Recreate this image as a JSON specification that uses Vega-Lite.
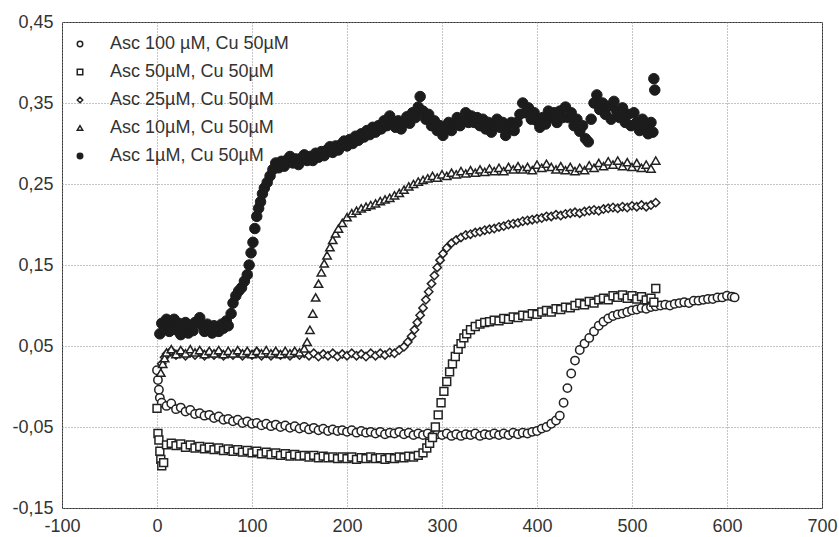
{
"$schema": "https://vega.github.io/schema/vega-lite/v6.json",
"width": 760,
"height": 486,
"autosize": {"type": "none"},
"padding": {"left": 62, "top": 22, "right": 17, "bottom": 29},
"background": "white",
"config": {
  "view": {"stroke": "#333", "strokeWidth": 1},
  "font": "Liberation Sans",
  "axis": {"labelFont": "Liberation Sans", "labelFontSize": 18, "labelColor": "#333", "ticks": false, "domain": false, "gridColor": "#8a8a8a", "gridDash": [1, 2], "gridWidth": 1, "labelPadding": 9, "labelFlush": false, "labelOverlap": false}
},
"datasets": {"kin": [
{"s":"a","t":0,"y":0.02},{"s":"a","t":1,"y":0.008},{"s":"a","t":2,"y":-0.004},{"s":"a","t":3,"y":-0.014},{"s":"a","t":5,"y":-0.02},{"s":"a","t":10,"y":-0.024},{"s":"a","t":15,"y":-0.021},{"s":"a","t":20,"y":-0.028},{"s":"a","t":25,"y":-0.026},{"s":"a","t":30,"y":-0.031},{"s":"a","t":35,"y":-0.029},{"s":"a","t":40,"y":-0.034},{"s":"a","t":45,"y":-0.033},{"s":"a","t":50,"y":-0.036},{"s":"a","t":55,"y":-0.035},{"s":"a","t":60,"y":-0.039},{"s":"a","t":65,"y":-0.037},{"s":"a","t":70,"y":-0.041},{"s":"a","t":75,"y":-0.04},{"s":"a","t":80,"y":-0.043},{"s":"a","t":85,"y":-0.041},{"s":"a","t":90,"y":-0.045},{"s":"a","t":95,"y":-0.043},{"s":"a","t":100,"y":-0.046},{"s":"a","t":105,"y":-0.045},{"s":"a","t":110,"y":-0.048},{"s":"a","t":115,"y":-0.046},{"s":"a","t":120,"y":-0.049},{"s":"a","t":125,"y":-0.047},{"s":"a","t":130,"y":-0.05},{"s":"a","t":135,"y":-0.048},{"s":"a","t":140,"y":-0.051},{"s":"a","t":145,"y":-0.049},{"s":"a","t":150,"y":-0.052},{"s":"a","t":155,"y":-0.05},{"s":"a","t":160,"y":-0.053},{"s":"a","t":165,"y":-0.051},{"s":"a","t":170,"y":-0.054},{"s":"a","t":175,"y":-0.052},{"s":"a","t":180,"y":-0.055},{"s":"a","t":185,"y":-0.053},{"s":"a","t":190,"y":-0.055},{"s":"a","t":195,"y":-0.054},{"s":"a","t":200,"y":-0.056},{"s":"a","t":205,"y":-0.054},{"s":"a","t":210,"y":-0.057},{"s":"a","t":215,"y":-0.055},{"s":"a","t":220,"y":-0.057},{"s":"a","t":225,"y":-0.056},{"s":"a","t":230,"y":-0.058},{"s":"a","t":235,"y":-0.056},{"s":"a","t":240,"y":-0.059},{"s":"a","t":245,"y":-0.057},{"s":"a","t":250,"y":-0.058},{"s":"a","t":255,"y":-0.056},{"s":"a","t":260,"y":-0.059},{"s":"a","t":265,"y":-0.057},{"s":"a","t":270,"y":-0.06},{"s":"a","t":275,"y":-0.058},{"s":"a","t":280,"y":-0.06},{"s":"a","t":285,"y":-0.058},{"s":"a","t":290,"y":-0.061},{"s":"a","t":295,"y":-0.059},{"s":"a","t":300,"y":-0.06},{"s":"a","t":305,"y":-0.058},{"s":"a","t":310,"y":-0.061},{"s":"a","t":315,"y":-0.059},{"s":"a","t":320,"y":-0.061},{"s":"a","t":325,"y":-0.059},{"s":"a","t":330,"y":-0.06},{"s":"a","t":335,"y":-0.058},{"s":"a","t":340,"y":-0.061},{"s":"a","t":345,"y":-0.059},{"s":"a","t":350,"y":-0.06},{"s":"a","t":355,"y":-0.058},{"s":"a","t":360,"y":-0.06},{"s":"a","t":365,"y":-0.058},{"s":"a","t":370,"y":-0.06},{"s":"a","t":375,"y":-0.057},{"s":"a","t":380,"y":-0.059},{"s":"a","t":385,"y":-0.057},{"s":"a","t":390,"y":-0.058},{"s":"a","t":395,"y":-0.056},{"s":"a","t":400,"y":-0.055},{"s":"a","t":405,"y":-0.052},{"s":"a","t":410,"y":-0.05},{"s":"a","t":415,"y":-0.046},{"s":"a","t":420,"y":-0.042},{"s":"a","t":424,"y":-0.036},{"s":"a","t":428,"y":-0.02},{"s":"a","t":432,"y":-0.002},{"s":"a","t":436,"y":0.016},{"s":"a","t":440,"y":0.032},{"s":"a","t":445,"y":0.045},{"s":"a","t":450,"y":0.053},{"s":"a","t":455,"y":0.06},{"s":"a","t":460,"y":0.068},{"s":"a","t":465,"y":0.075},{"s":"a","t":470,"y":0.08},{"s":"a","t":475,"y":0.084},{"s":"a","t":480,"y":0.087},{"s":"a","t":485,"y":0.089},{"s":"a","t":490,"y":0.09},{"s":"a","t":495,"y":0.092},{"s":"a","t":500,"y":0.094},{"s":"a","t":505,"y":0.095},{"s":"a","t":510,"y":0.097},{"s":"a","t":515,"y":0.096},{"s":"a","t":520,"y":0.098},{"s":"a","t":525,"y":0.099},{"s":"a","t":530,"y":0.1},{"s":"a","t":535,"y":0.101},{"s":"a","t":540,"y":0.1},{"s":"a","t":545,"y":0.102},{"s":"a","t":550,"y":0.103},{"s":"a","t":555,"y":0.104},{"s":"a","t":560,"y":0.103},{"s":"a","t":565,"y":0.106},{"s":"a","t":570,"y":0.106},{"s":"a","t":575,"y":0.107},{"s":"a","t":580,"y":0.108},{"s":"a","t":585,"y":0.108},{"s":"a","t":590,"y":0.11},{"s":"a","t":595,"y":0.11},{"s":"a","t":600,"y":0.112},{"s":"a","t":605,"y":0.111},{"s":"a","t":608,"y":0.11},
{"s":"b","t":0,"y":-0.027},{"s":"b","t":1,"y":-0.058},{"s":"b","t":2,"y":-0.066},{"s":"b","t":3,"y":-0.08},{"s":"b","t":4,"y":-0.09},{"s":"b","t":5,"y":-0.098},{"s":"b","t":7,"y":-0.094},{"s":"b","t":10,"y":-0.072},{"s":"b","t":15,"y":-0.07},{"s":"b","t":20,"y":-0.073},{"s":"b","t":25,"y":-0.071},{"s":"b","t":30,"y":-0.075},{"s":"b","t":35,"y":-0.072},{"s":"b","t":40,"y":-0.076},{"s":"b","t":45,"y":-0.074},{"s":"b","t":50,"y":-0.077},{"s":"b","t":55,"y":-0.075},{"s":"b","t":60,"y":-0.078},{"s":"b","t":65,"y":-0.076},{"s":"b","t":70,"y":-0.079},{"s":"b","t":75,"y":-0.077},{"s":"b","t":80,"y":-0.08},{"s":"b","t":85,"y":-0.078},{"s":"b","t":90,"y":-0.081},{"s":"b","t":95,"y":-0.079},{"s":"b","t":100,"y":-0.082},{"s":"b","t":105,"y":-0.08},{"s":"b","t":110,"y":-0.083},{"s":"b","t":115,"y":-0.081},{"s":"b","t":120,"y":-0.084},{"s":"b","t":125,"y":-0.082},{"s":"b","t":130,"y":-0.085},{"s":"b","t":135,"y":-0.083},{"s":"b","t":140,"y":-0.086},{"s":"b","t":145,"y":-0.084},{"s":"b","t":150,"y":-0.086},{"s":"b","t":155,"y":-0.085},{"s":"b","t":160,"y":-0.087},{"s":"b","t":165,"y":-0.085},{"s":"b","t":170,"y":-0.088},{"s":"b","t":175,"y":-0.086},{"s":"b","t":180,"y":-0.088},{"s":"b","t":185,"y":-0.087},{"s":"b","t":190,"y":-0.089},{"s":"b","t":195,"y":-0.087},{"s":"b","t":200,"y":-0.089},{"s":"b","t":205,"y":-0.087},{"s":"b","t":210,"y":-0.09},{"s":"b","t":215,"y":-0.088},{"s":"b","t":220,"y":-0.089},{"s":"b","t":225,"y":-0.087},{"s":"b","t":230,"y":-0.089},{"s":"b","t":235,"y":-0.088},{"s":"b","t":240,"y":-0.09},{"s":"b","t":245,"y":-0.088},{"s":"b","t":250,"y":-0.089},{"s":"b","t":255,"y":-0.087},{"s":"b","t":260,"y":-0.088},{"s":"b","t":265,"y":-0.086},{"s":"b","t":270,"y":-0.087},{"s":"b","t":275,"y":-0.085},{"s":"b","t":280,"y":-0.082},{"s":"b","t":284,"y":-0.076},{"s":"b","t":287,"y":-0.07},{"s":"b","t":290,"y":-0.063},{"s":"b","t":293,"y":-0.05},{"s":"b","t":296,"y":-0.035},{"s":"b","t":299,"y":-0.02},{"s":"b","t":302,"y":-0.006},{"s":"b","t":305,"y":0.006},{"s":"b","t":308,"y":0.018},{"s":"b","t":311,"y":0.028},{"s":"b","t":314,"y":0.037},{"s":"b","t":317,"y":0.046},{"s":"b","t":320,"y":0.053},{"s":"b","t":323,"y":0.06},{"s":"b","t":326,"y":0.065},{"s":"b","t":330,"y":0.07},{"s":"b","t":335,"y":0.074},{"s":"b","t":340,"y":0.077},{"s":"b","t":345,"y":0.079},{"s":"b","t":350,"y":0.08},{"s":"b","t":355,"y":0.082},{"s":"b","t":360,"y":0.081},{"s":"b","t":365,"y":0.084},{"s":"b","t":370,"y":0.083},{"s":"b","t":375,"y":0.086},{"s":"b","t":380,"y":0.085},{"s":"b","t":385,"y":0.088},{"s":"b","t":390,"y":0.087},{"s":"b","t":395,"y":0.09},{"s":"b","t":400,"y":0.089},{"s":"b","t":405,"y":0.092},{"s":"b","t":410,"y":0.094},{"s":"b","t":415,"y":0.092},{"s":"b","t":420,"y":0.096},{"s":"b","t":425,"y":0.095},{"s":"b","t":430,"y":0.098},{"s":"b","t":435,"y":0.097},{"s":"b","t":440,"y":0.1},{"s":"b","t":445,"y":0.103},{"s":"b","t":450,"y":0.101},{"s":"b","t":455,"y":0.105},{"s":"b","t":460,"y":0.103},{"s":"b","t":465,"y":0.107},{"s":"b","t":470,"y":0.109},{"s":"b","t":475,"y":0.107},{"s":"b","t":480,"y":0.112},{"s":"b","t":485,"y":0.11},{"s":"b","t":490,"y":0.113},{"s":"b","t":495,"y":0.109},{"s":"b","t":500,"y":0.112},{"s":"b","t":505,"y":0.108},{"s":"b","t":510,"y":0.111},{"s":"b","t":515,"y":0.107},{"s":"b","t":520,"y":0.109},{"s":"b","t":523,"y":0.104},{"s":"b","t":525,"y":0.121},
{"s":"c","t":5,"y":0.028},{"s":"c","t":8,"y":0.036},{"s":"c","t":10,"y":0.04},{"s":"c","t":15,"y":0.044},{"s":"c","t":20,"y":0.039},{"s":"c","t":25,"y":0.043},{"s":"c","t":30,"y":0.038},{"s":"c","t":35,"y":0.042},{"s":"c","t":40,"y":0.039},{"s":"c","t":45,"y":0.043},{"s":"c","t":50,"y":0.038},{"s":"c","t":55,"y":0.042},{"s":"c","t":60,"y":0.039},{"s":"c","t":65,"y":0.043},{"s":"c","t":70,"y":0.038},{"s":"c","t":75,"y":0.041},{"s":"c","t":80,"y":0.039},{"s":"c","t":85,"y":0.043},{"s":"c","t":90,"y":0.038},{"s":"c","t":95,"y":0.042},{"s":"c","t":100,"y":0.039},{"s":"c","t":105,"y":0.043},{"s":"c","t":110,"y":0.038},{"s":"c","t":115,"y":0.041},{"s":"c","t":120,"y":0.038},{"s":"c","t":125,"y":0.042},{"s":"c","t":130,"y":0.039},{"s":"c","t":135,"y":0.041},{"s":"c","t":140,"y":0.038},{"s":"c","t":145,"y":0.042},{"s":"c","t":150,"y":0.039},{"s":"c","t":155,"y":0.041},{"s":"c","t":160,"y":0.038},{"s":"c","t":165,"y":0.041},{"s":"c","t":170,"y":0.037},{"s":"c","t":175,"y":0.04},{"s":"c","t":180,"y":0.038},{"s":"c","t":185,"y":0.041},{"s":"c","t":190,"y":0.037},{"s":"c","t":195,"y":0.04},{"s":"c","t":200,"y":0.038},{"s":"c","t":205,"y":0.041},{"s":"c","t":210,"y":0.038},{"s":"c","t":215,"y":0.04},{"s":"c","t":220,"y":0.037},{"s":"c","t":225,"y":0.041},{"s":"c","t":230,"y":0.038},{"s":"c","t":235,"y":0.041},{"s":"c","t":240,"y":0.039},{"s":"c","t":245,"y":0.042},{"s":"c","t":250,"y":0.041},{"s":"c","t":255,"y":0.045},{"s":"c","t":260,"y":0.049},{"s":"c","t":264,"y":0.055},{"s":"c","t":268,"y":0.062},{"s":"c","t":271,"y":0.07},{"s":"c","t":274,"y":0.079},{"s":"c","t":277,"y":0.088},{"s":"c","t":280,"y":0.097},{"s":"c","t":283,"y":0.107},{"s":"c","t":286,"y":0.117},{"s":"c","t":289,"y":0.127},{"s":"c","t":292,"y":0.137},{"s":"c","t":295,"y":0.147},{"s":"c","t":298,"y":0.156},{"s":"c","t":301,"y":0.164},{"s":"c","t":305,"y":0.171},{"s":"c","t":310,"y":0.177},{"s":"c","t":315,"y":0.181},{"s":"c","t":320,"y":0.184},{"s":"c","t":325,"y":0.187},{"s":"c","t":330,"y":0.188},{"s":"c","t":335,"y":0.19},{"s":"c","t":340,"y":0.191},{"s":"c","t":345,"y":0.193},{"s":"c","t":350,"y":0.194},{"s":"c","t":355,"y":0.195},{"s":"c","t":360,"y":0.197},{"s":"c","t":365,"y":0.198},{"s":"c","t":370,"y":0.2},{"s":"c","t":375,"y":0.201},{"s":"c","t":380,"y":0.202},{"s":"c","t":385,"y":0.204},{"s":"c","t":390,"y":0.205},{"s":"c","t":395,"y":0.206},{"s":"c","t":400,"y":0.207},{"s":"c","t":405,"y":0.208},{"s":"c","t":410,"y":0.21},{"s":"c","t":415,"y":0.21},{"s":"c","t":420,"y":0.212},{"s":"c","t":425,"y":0.211},{"s":"c","t":430,"y":0.213},{"s":"c","t":435,"y":0.214},{"s":"c","t":440,"y":0.215},{"s":"c","t":445,"y":0.214},{"s":"c","t":450,"y":0.216},{"s":"c","t":455,"y":0.217},{"s":"c","t":460,"y":0.218},{"s":"c","t":465,"y":0.217},{"s":"c","t":470,"y":0.219},{"s":"c","t":475,"y":0.22},{"s":"c","t":480,"y":0.221},{"s":"c","t":485,"y":0.22},{"s":"c","t":490,"y":0.222},{"s":"c","t":495,"y":0.221},{"s":"c","t":500,"y":0.223},{"s":"c","t":505,"y":0.222},{"s":"c","t":510,"y":0.224},{"s":"c","t":515,"y":0.222},{"s":"c","t":520,"y":0.224},{"s":"c","t":525,"y":0.227},
{"s":"d","t":4,"y":0.017},{"s":"d","t":6,"y":0.028},{"s":"d","t":8,"y":0.035},{"s":"d","t":10,"y":0.042},{"s":"d","t":15,"y":0.046},{"s":"d","t":20,"y":0.04},{"s":"d","t":25,"y":0.045},{"s":"d","t":30,"y":0.041},{"s":"d","t":35,"y":0.046},{"s":"d","t":40,"y":0.042},{"s":"d","t":45,"y":0.045},{"s":"d","t":50,"y":0.04},{"s":"d","t":55,"y":0.044},{"s":"d","t":60,"y":0.041},{"s":"d","t":65,"y":0.045},{"s":"d","t":70,"y":0.04},{"s":"d","t":75,"y":0.044},{"s":"d","t":80,"y":0.041},{"s":"d","t":85,"y":0.045},{"s":"d","t":90,"y":0.041},{"s":"d","t":95,"y":0.044},{"s":"d","t":100,"y":0.04},{"s":"d","t":105,"y":0.044},{"s":"d","t":110,"y":0.041},{"s":"d","t":115,"y":0.045},{"s":"d","t":120,"y":0.041},{"s":"d","t":125,"y":0.044},{"s":"d","t":130,"y":0.04},{"s":"d","t":135,"y":0.044},{"s":"d","t":140,"y":0.041},{"s":"d","t":145,"y":0.044},{"s":"d","t":150,"y":0.042},{"s":"d","t":155,"y":0.047},{"s":"d","t":158,"y":0.055},{"s":"d","t":161,"y":0.07},{"s":"d","t":164,"y":0.09},{"s":"d","t":167,"y":0.11},{"s":"d","t":170,"y":0.127},{"s":"d","t":173,"y":0.141},{"s":"d","t":176,"y":0.152},{"s":"d","t":179,"y":0.162},{"s":"d","t":182,"y":0.172},{"s":"d","t":185,"y":0.181},{"s":"d","t":188,"y":0.189},{"s":"d","t":191,"y":0.195},{"s":"d","t":195,"y":0.202},{"s":"d","t":200,"y":0.209},{"s":"d","t":205,"y":0.214},{"s":"d","t":210,"y":0.217},{"s":"d","t":215,"y":0.22},{"s":"d","t":220,"y":0.222},{"s":"d","t":225,"y":0.224},{"s":"d","t":230,"y":0.226},{"s":"d","t":235,"y":0.229},{"s":"d","t":240,"y":0.231},{"s":"d","t":245,"y":0.233},{"s":"d","t":250,"y":0.236},{"s":"d","t":255,"y":0.239},{"s":"d","t":260,"y":0.243},{"s":"d","t":265,"y":0.247},{"s":"d","t":270,"y":0.25},{"s":"d","t":275,"y":0.253},{"s":"d","t":280,"y":0.255},{"s":"d","t":285,"y":0.257},{"s":"d","t":290,"y":0.26},{"s":"d","t":295,"y":0.258},{"s":"d","t":300,"y":0.262},{"s":"d","t":305,"y":0.26},{"s":"d","t":310,"y":0.264},{"s":"d","t":315,"y":0.262},{"s":"d","t":320,"y":0.266},{"s":"d","t":325,"y":0.263},{"s":"d","t":330,"y":0.267},{"s":"d","t":335,"y":0.264},{"s":"d","t":340,"y":0.268},{"s":"d","t":345,"y":0.265},{"s":"d","t":350,"y":0.269},{"s":"d","t":355,"y":0.266},{"s":"d","t":360,"y":0.27},{"s":"d","t":365,"y":0.266},{"s":"d","t":370,"y":0.271},{"s":"d","t":375,"y":0.268},{"s":"d","t":380,"y":0.272},{"s":"d","t":385,"y":0.268},{"s":"d","t":390,"y":0.271},{"s":"d","t":395,"y":0.267},{"s":"d","t":400,"y":0.274},{"s":"d","t":405,"y":0.27},{"s":"d","t":410,"y":0.275},{"s":"d","t":415,"y":0.271},{"s":"d","t":420,"y":0.268},{"s":"d","t":425,"y":0.272},{"s":"d","t":430,"y":0.267},{"s":"d","t":435,"y":0.271},{"s":"d","t":440,"y":0.266},{"s":"d","t":445,"y":0.27},{"s":"d","t":450,"y":0.267},{"s":"d","t":455,"y":0.273},{"s":"d","t":460,"y":0.27},{"s":"d","t":465,"y":0.276},{"s":"d","t":470,"y":0.272},{"s":"d","t":475,"y":0.278},{"s":"d","t":480,"y":0.274},{"s":"d","t":485,"y":0.279},{"s":"d","t":490,"y":0.272},{"s":"d","t":495,"y":0.277},{"s":"d","t":500,"y":0.271},{"s":"d","t":505,"y":0.276},{"s":"d","t":510,"y":0.27},{"s":"d","t":515,"y":0.274},{"s":"d","t":520,"y":0.269},{"s":"d","t":525,"y":0.279},
{"s":"e","t":3,"y":0.065},{"s":"e","t":5,"y":0.078},{"s":"e","t":8,"y":0.07},{"s":"e","t":10,"y":0.083},{"s":"e","t":13,"y":0.068},{"s":"e","t":15,"y":0.075},{"s":"e","t":18,"y":0.083},{"s":"e","t":20,"y":0.07},{"s":"e","t":23,"y":0.078},{"s":"e","t":25,"y":0.064},{"s":"e","t":28,"y":0.072},{"s":"e","t":30,"y":0.079},{"s":"e","t":33,"y":0.066},{"s":"e","t":35,"y":0.074},{"s":"e","t":38,"y":0.069},{"s":"e","t":40,"y":0.079},{"s":"e","t":45,"y":0.085},{"s":"e","t":48,"y":0.075},{"s":"e","t":50,"y":0.068},{"s":"e","t":53,"y":0.077},{"s":"e","t":55,"y":0.07},{"s":"e","t":58,"y":0.066},{"s":"e","t":60,"y":0.075},{"s":"e","t":63,"y":0.07},{"s":"e","t":65,"y":0.068},{"s":"e","t":68,"y":0.077},{"s":"e","t":70,"y":0.072},{"s":"e","t":73,"y":0.081},{"s":"e","t":75,"y":0.075},{"s":"e","t":78,"y":0.09},{"s":"e","t":80,"y":0.103},{"s":"e","t":83,"y":0.112},{"s":"e","t":86,"y":0.118},{"s":"e","t":89,"y":0.122},{"s":"e","t":92,"y":0.13},{"s":"e","t":95,"y":0.138},{"s":"e","t":97,"y":0.15},{"s":"e","t":99,"y":0.165},{"s":"e","t":101,"y":0.178},{"s":"e","t":103,"y":0.195},{"s":"e","t":105,"y":0.21},{"s":"e","t":107,"y":0.22},{"s":"e","t":109,"y":0.228},{"s":"e","t":111,"y":0.238},{"s":"e","t":113,"y":0.245},{"s":"e","t":116,"y":0.252},{"s":"e","t":119,"y":0.26},{"s":"e","t":122,"y":0.268},{"s":"e","t":125,"y":0.276},{"s":"e","t":128,"y":0.27},{"s":"e","t":131,"y":0.278},{"s":"e","t":134,"y":0.272},{"s":"e","t":137,"y":0.28},{"s":"e","t":140,"y":0.284},{"s":"e","t":143,"y":0.276},{"s":"e","t":146,"y":0.281},{"s":"e","t":149,"y":0.274},{"s":"e","t":152,"y":0.282},{"s":"e","t":155,"y":0.286},{"s":"e","t":158,"y":0.279},{"s":"e","t":161,"y":0.284},{"s":"e","t":164,"y":0.279},{"s":"e","t":167,"y":0.288},{"s":"e","t":170,"y":0.283},{"s":"e","t":173,"y":0.29},{"s":"e","t":176,"y":0.285},{"s":"e","t":179,"y":0.292},{"s":"e","t":182,"y":0.296},{"s":"e","t":185,"y":0.289},{"s":"e","t":188,"y":0.297},{"s":"e","t":191,"y":0.292},{"s":"e","t":194,"y":0.299},{"s":"e","t":197,"y":0.303},{"s":"e","t":200,"y":0.297},{"s":"e","t":203,"y":0.305},{"s":"e","t":206,"y":0.3},{"s":"e","t":209,"y":0.309},{"s":"e","t":212,"y":0.304},{"s":"e","t":215,"y":0.312},{"s":"e","t":218,"y":0.308},{"s":"e","t":221,"y":0.316},{"s":"e","t":224,"y":0.311},{"s":"e","t":227,"y":0.32},{"s":"e","t":230,"y":0.314},{"s":"e","t":233,"y":0.322},{"s":"e","t":236,"y":0.318},{"s":"e","t":239,"y":0.328},{"s":"e","t":242,"y":0.322},{"s":"e","t":245,"y":0.334},{"s":"e","t":248,"y":0.326},{"s":"e","t":251,"y":0.32},{"s":"e","t":254,"y":0.328},{"s":"e","t":257,"y":0.318},{"s":"e","t":260,"y":0.326},{"s":"e","t":263,"y":0.333},{"s":"e","t":266,"y":0.325},{"s":"e","t":269,"y":0.338},{"s":"e","t":272,"y":0.332},{"s":"e","t":275,"y":0.345},{"s":"e","t":277,"y":0.358},{"s":"e","t":280,"y":0.34},{"s":"e","t":283,"y":0.33},{"s":"e","t":286,"y":0.336},{"s":"e","t":289,"y":0.322},{"s":"e","t":292,"y":0.328},{"s":"e","t":295,"y":0.316},{"s":"e","t":298,"y":0.322},{"s":"e","t":301,"y":0.31},{"s":"e","t":304,"y":0.318},{"s":"e","t":307,"y":0.326},{"s":"e","t":310,"y":0.316},{"s":"e","t":313,"y":0.324},{"s":"e","t":316,"y":0.332},{"s":"e","t":319,"y":0.322},{"s":"e","t":322,"y":0.33},{"s":"e","t":325,"y":0.338},{"s":"e","t":328,"y":0.326},{"s":"e","t":331,"y":0.334},{"s":"e","t":334,"y":0.326},{"s":"e","t":337,"y":0.332},{"s":"e","t":340,"y":0.322},{"s":"e","t":343,"y":0.33},{"s":"e","t":346,"y":0.318},{"s":"e","t":349,"y":0.326},{"s":"e","t":352,"y":0.314},{"s":"e","t":355,"y":0.322},{"s":"e","t":358,"y":0.33},{"s":"e","t":361,"y":0.32},{"s":"e","t":364,"y":0.326},{"s":"e","t":367,"y":0.31},{"s":"e","t":370,"y":0.318},{"s":"e","t":373,"y":0.326},{"s":"e","t":376,"y":0.316},{"s":"e","t":379,"y":0.326},{"s":"e","t":382,"y":0.336},{"s":"e","t":385,"y":0.35},{"s":"e","t":388,"y":0.338},{"s":"e","t":391,"y":0.344},{"s":"e","t":394,"y":0.33},{"s":"e","t":397,"y":0.338},{"s":"e","t":400,"y":0.328},{"s":"e","t":403,"y":0.32},{"s":"e","t":406,"y":0.332},{"s":"e","t":409,"y":0.324},{"s":"e","t":412,"y":0.34},{"s":"e","t":415,"y":0.332},{"s":"e","t":418,"y":0.338},{"s":"e","t":421,"y":0.326},{"s":"e","t":424,"y":0.34},{"s":"e","t":427,"y":0.332},{"s":"e","t":430,"y":0.345},{"s":"e","t":433,"y":0.332},{"s":"e","t":436,"y":0.338},{"s":"e","t":439,"y":0.322},{"s":"e","t":442,"y":0.33},{"s":"e","t":445,"y":0.315},{"s":"e","t":448,"y":0.322},{"s":"e","t":451,"y":0.306},{"s":"e","t":454,"y":0.302},{"s":"e","t":457,"y":0.33},{"s":"e","t":460,"y":0.35},{"s":"e","t":463,"y":0.36},{"s":"e","t":466,"y":0.342},{"s":"e","t":469,"y":0.35},{"s":"e","t":472,"y":0.336},{"s":"e","t":475,"y":0.346},{"s":"e","t":478,"y":0.33},{"s":"e","t":481,"y":0.352},{"s":"e","t":484,"y":0.34},{"s":"e","t":487,"y":0.332},{"s":"e","t":490,"y":0.344},{"s":"e","t":493,"y":0.326},{"s":"e","t":496,"y":0.336},{"s":"e","t":499,"y":0.322},{"s":"e","t":502,"y":0.338},{"s":"e","t":505,"y":0.326},{"s":"e","t":508,"y":0.316},{"s":"e","t":511,"y":0.33},{"s":"e","t":514,"y":0.322},{"s":"e","t":517,"y":0.312},{"s":"e","t":520,"y":0.326},{"s":"e","t":522,"y":0.314},{"s":"e","t":523,"y":0.38},{"s":"e","t":524,"y":0.366}
],
"series": [
{"s":"a","name":"Asc 100 µM, Cu 50µM"},
{"s":"b","name":"Asc 50µM, Cu 50µM"},
{"s":"c","name":"Asc 25µM, Cu 50µM"},
{"s":"d","name":"Asc 10µM, Cu 50µM"},
{"s":"e","name":"Asc 1µM, Cu 50µM"}
]},
"data": {"name": "kin"},
"transform": [{"lookup": "s", "from": {"data": {"name": "series"}, "key": "s", "fields": ["name"]}}],
"encoding": {
  "x": {"field": "t", "type": "quantitative", "scale": {"domain": [-100, 700], "nice": false, "zero": false},
        "axis": {"title": null, "values": [-100, 0, 100, 200, 300, 400, 500, 600, 700], "labelExpr": "'' + datum.value"}},
  "y": {"field": "y", "type": "quantitative", "scale": {"domain": [-0.15, 0.45], "nice": false, "zero": false},
        "axis": {"title": null, "values": [-0.15, -0.05, 0.05, 0.15, 0.25, 0.35, 0.45], "labelExpr": "replace(replace(format(datum.value, '.2f'), '.', ','), '\u2212', '-')"}},
  "shape": {"field": "name", "type": "nominal",
            "scale": {"domain": ["Asc 100 µM, Cu 50µM", "Asc 50µM, Cu 50µM", "Asc 25µM, Cu 50µM", "Asc 10µM, Cu 50µM", "Asc 1µM, Cu 50µM"], "range": ["circle", "square", "diamond", "triangle-up", "circle"]},
            "legend": {"title": null, "orient": "none", "legendX": 9, "legendY": 13, "padding": 0, "labelFont": "Liberation Sans", "labelFontSize": 18, "labelColor": "#333", "symbolSize": 30, "rowPadding": 10, "labelOffset": 21, "labelLimit": 300,
                       "encode": {"symbols": {"update": {"stroke": {"value": "#222"}, "strokeWidth": {"value": 1}}}}}},
  "fill": {"field": "name", "type": "nominal",
           "scale": {"domain": ["Asc 100 µM, Cu 50µM", "Asc 50µM, Cu 50µM", "Asc 25µM, Cu 50µM", "Asc 10µM, Cu 50µM", "Asc 1µM, Cu 50µM"], "range": ["#ffffff", "#ffffff", "#ffffff", "#ffffff", "#1c1c1c"]},
           "legend": {"title": null, "orient": "none", "legendX": 9, "legendY": 13, "padding": 0, "labelFont": "Liberation Sans", "labelFontSize": 18, "labelColor": "#333", "symbolSize": 30, "rowPadding": 10, "labelOffset": 21, "labelLimit": 300,
                      "encode": {"symbols": {"update": {"stroke": {"value": "#222"}, "strokeWidth": {"value": 1}}}}}}
},
"layer": [
  {"transform": [{"filter": "datum.s == 'a'"}], "mark": {"type": "point", "filled": true, "stroke": "#222", "strokeWidth": 1.5, "opacity": 1, "size": 70}},
  {"transform": [{"filter": "datum.s == 'b'"}], "mark": {"type": "point", "filled": true, "stroke": "#222", "strokeWidth": 1.5, "opacity": 1, "size": 62}},
  {"transform": [{"filter": "datum.s == 'c'"}], "mark": {"type": "point", "filled": true, "stroke": "#222", "strokeWidth": 1.5, "opacity": 1, "size": 70}},
  {"transform": [{"filter": "datum.s == 'd'"}], "mark": {"type": "point", "filled": true, "stroke": "#222", "strokeWidth": 1.5, "opacity": 1, "size": 70}},
  {"transform": [{"filter": "datum.s == 'e'"}], "mark": {"type": "point", "filled": true, "stroke": "#1c1c1c", "strokeWidth": 1, "opacity": 1, "size": 110}}
]
}
